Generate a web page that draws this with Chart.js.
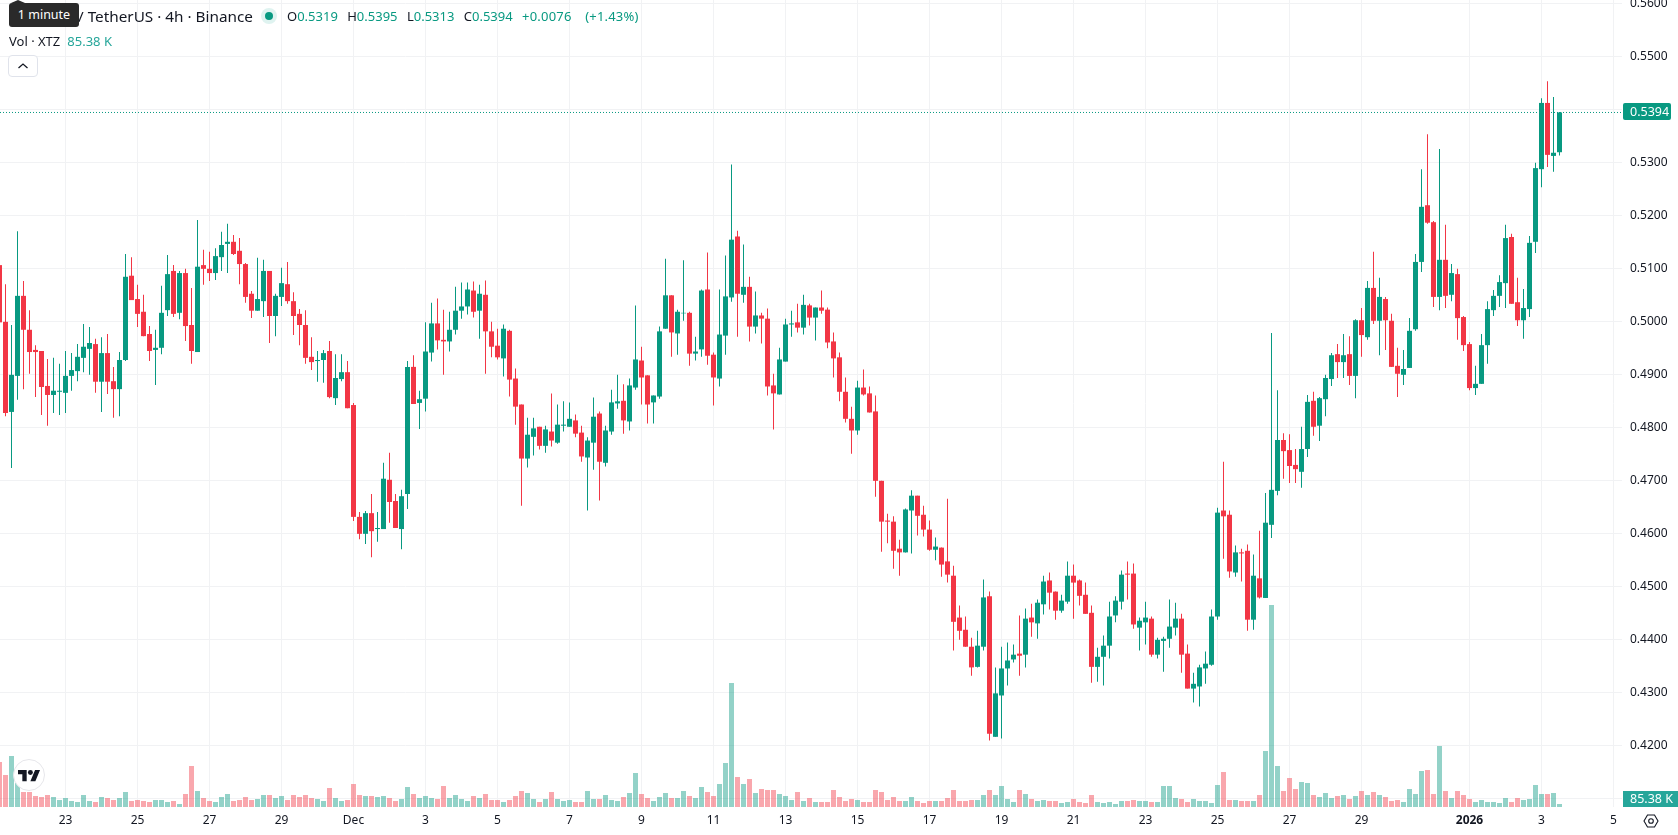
<!DOCTYPE html>
<html>
<head>
<meta charset="utf-8">
<title>XTZ / TetherUS</title>
<script src="https://cdn.jsdelivr.net/npm/chart.js@4.4.1/dist/chart.umd.min.js"></script>
<style>
	html, body { margin: 0; padding: 0; background: #fff; overflow: hidden; }
	#wrap { position: relative; width: 1678px; height: 835px; font-family: "Noto Sans", sans-serif; color: #131722; }
	#wrap canvas { position: absolute; left: 0; top: 0; }
	.row { position: absolute; white-space: nowrap; }
	.up { color: #089981; }
	.vol { color: #26a69a; }
	#title { left: 78px; top: 5px; font-size: 15.3px; line-height: 22px; }
	#liveDot { position: absolute; left: 261px; top: 8px; width: 16px; height: 16px; border-radius: 50%; background: #dff3f0; }
	#liveDot i { position: absolute; left: 4px; top: 4px; width: 8px; height: 8px; border-radius: 50%; background: #089981; }
	#ohlc { left: 287px; top: 6px; font-size: 13px; line-height: 20px; }
	#ohlc b { font-weight: normal; margin-left: 6px; }
	#ohlc b:first-child { margin-left: 0; }
	#ohlc b:last-child { letter-spacing: 0.2px; word-spacing: 10px; }
	#volRow { left: 9px; top: 31px; font-size: 13px; line-height: 20px; }
	#volRow span { margin-left: 7px; }
	#hint { position: absolute; left: 9px; top: 3px; width: 70px; height: 24px; background: #2a2a2a; border-radius: 3px; color: #fff; font-size: 12.5px; line-height: 24px; text-align: center; }
	#hint:before { content: ""; position: absolute; left: 2px; top: -3px; border-left: 7px solid transparent; border-right: 7px solid transparent; border-bottom: 3px solid #2a2a2a; }
	#toggle { position: absolute; left: 8px; top: 55px; width: 28px; height: 20px; border: 1px solid #e0e3eb; border-radius: 4px; background: #fff; }
	#logo { position: absolute; left: 13px; top: 759px; width: 32px; height: 32px; }
	#gear { position: absolute; left: 1643px; top: 814px; width: 16px; height: 14px; }
</style>
</head>
<body>
<div id="wrap">
	<canvas id="priceChart" width="1678" height="835"></canvas>
	<div class="row" id="title">/ TetherUS · 4h · Binance</div>
	<div id="liveDot"><i></i></div>
	<div class="row" id="ohlc"><b>O<span class="up">0.5319</span></b> <b>H<span class="up">0.5395</span></b> <b>L<span class="up">0.5313</span></b> <b>C<span class="up">0.5394</span></b> <b class="up">+0.0076 (+1.43%)</b></div>
	<div class="row" id="volRow">Vol · XTZ<span class="vol">85.38 K</span></div>
	<div id="hint">1 minute</div>
	<div id="toggle">
		<svg width="28" height="20" viewBox="0 0 28 20"><path d="M9.5 12 L14 8 L18.500 12" fill="none" stroke="#131722" stroke-width="1.300"/></svg>
	</div>
	<svg id="logo" viewBox="0 0 32 32">
		<circle cx="16" cy="16" r="15.500" fill="#fff" stroke="#e6e6ea"/>
		<g transform="translate(5 8.500) scale(0.62)" fill="#131722">
			<path d="M14 22H7V11H0V4h14v18zM28 22h-8l7.500-18h8L28 22z"/>
			<circle cx="20" cy="8" r="4"/>
		</g>
	</svg>
	<svg id="gear" viewBox="0 0 16 14">
		<path d="M1 7 L4.500 1 H11.500 L15 7 L11.500 13 H4.500 Z" fill="none" stroke="#131722" stroke-width="1.100"/>
		<circle cx="8" cy="7" r="2.300" fill="none" stroke="#131722" stroke-width="1.100"/>
	</svg>
</div>
<script>
//4시간봉 시세
var opens = [
	0.5106,0.4999,0.4829,0.4897,0.5048,0.4984,0.4946,0.4944,0.4878,0.4861,
	0.4867,0.4865,0.4897,0.4906,0.4931,0.4948,0.4957,0.4886,0.4940,0.4887,
	0.4872,0.4927,0.5086,0.5042,0.5018,0.4976,0.4946,0.4950,0.5021,0.5095,
	0.5016,0.5091,0.4993,0.4942,0.5106,0.5099,0.5091,0.5121,0.5146,0.5150,
	0.5133,0.5108,0.5052,0.5020,0.5038,0.5095,0.5010,0.5046,0.5070,0.5038,
	0.5014,0.4993,0.4933,0.4925,0.4927,0.4944,0.4855,0.4891,0.4904,0.4842,
	0.4631,0.4599,0.4638,0.4608,0.4608,0.4701,0.4661,0.4608,0.4674,0.4914,
	0.4846,0.4854,0.4941,0.4996,0.4965,0.4962,0.4984,0.5020,0.5028,0.5058,
	0.5020,0.5050,0.4981,0.4954,0.4930,0.4982,0.4892,0.4843,0.4741,0.4782,
	0.4801,0.4765,0.4792,0.4771,0.4803,0.4801,0.4813,0.4790,0.4743,0.4771,
	0.4826,0.4733,0.4792,0.4845,0.4850,0.4811,0.4875,0.4926,0.4898,0.4847,
	0.4858,0.4986,0.5049,0.4977,0.5015,0.5016,0.4939,0.4947,0.5060,0.4937,
	0.4892,0.4973,0.5045,0.5160,0.5050,0.5065,0.4990,0.5011,0.5005,0.4879,
	0.4862,0.4924,0.4994,0.4998,0.4988,0.5030,0.5007,0.5026,0.5022,0.4962,
	0.4932,0.4867,0.4816,0.4794,0.4875,0.4864,0.4830,0.4699,0.4624,0.4622,
	0.4571,0.4564,0.4643,0.4671,0.4635,0.4607,0.4569,0.4573,0.4547,0.4520,
	0.4441,0.4418,0.4386,0.4348,0.4386,0.4481,0.4216,0.4294,0.4345,0.4362,
	0.4373,0.4371,0.4441,0.4430,0.4466,0.4511,0.4490,0.4454,0.4471,0.4520,
	0.4511,0.4484,0.4450,0.4348,0.4367,0.4388,0.4445,0.4471,0.4524,0.4524,
	0.4422,0.4432,0.4439,0.4371,0.4397,0.4401,0.4422,0.4439,0.4373,0.4307,
	0.4311,0.4345,0.4352,0.4443,0.4643,0.4635,0.4526,0.4564,0.4567,0.4437,
	0.4515,0.4478,0.4616,0.4680,0.4776,0.4757,0.4729,0.4716,0.4759,0.4850,
	0.4803,0.4853,0.4891,0.4938,0.4923,0.4938,0.4897,0.5002,0.4970,0.5063,
	0.5001,0.5042,0.5001,0.4916,0.4899,0.4912,0.4985,0.5112,0.5219,0.5187,
	0.5046,0.5116,0.5050,0.5089,0.5008,0.4957,0.4874,0.4882,0.4955,0.5021,
	0.5048,0.5072,0.5159,0.5036,0.5002,0.5023,0.5150,0.5287,0.5412,0.5312,
	0.5319
];
var highs = [
	0.5110,0.5070,0.4993,0.5170,0.5076,0.5021,0.4955,0.4944,0.4929,0.4931,
	0.4920,0.4944,0.4940,0.4957,0.4995,0.4989,0.4967,0.4970,0.4976,0.4914,
	0.4942,0.5127,0.5121,0.5069,0.5050,0.4991,0.4984,0.5067,0.5125,0.5106,
	0.5095,0.5099,0.5063,0.5191,0.5135,0.5131,0.5138,0.5169,0.5184,0.5163,
	0.5157,0.5110,0.5057,0.5120,0.5116,0.5095,0.5052,0.5101,0.5112,0.5055,
	0.5023,0.5021,0.4970,0.4944,0.4946,0.4963,0.4938,0.4938,0.4925,0.4846,
	0.4640,0.4642,0.4674,0.4640,0.4733,0.4752,0.4674,0.4682,0.4925,0.4936,
	0.4869,0.4998,0.5035,0.5043,0.5022,0.5018,0.5065,0.5073,0.5073,0.5075,
	0.5069,0.5077,0.4999,0.4986,0.4994,0.4984,0.4911,0.4843,0.4818,0.4818,
	0.4801,0.4803,0.4864,0.4843,0.4849,0.4847,0.4824,0.4803,0.4781,0.4856,
	0.4830,0.4803,0.4871,0.4899,0.4881,0.4892,0.5030,0.4952,0.4898,0.4860,
	0.4990,0.5118,0.5049,0.5022,0.5115,0.5018,0.4971,0.5060,0.5130,0.4941,
	0.5060,0.5124,0.5296,0.5171,0.5145,0.5084,0.5056,0.5016,0.5024,0.4901,
	0.4950,0.5005,0.5020,0.5033,0.5050,0.5033,0.5026,0.5058,0.5026,0.4979,
	0.4941,0.4894,0.4839,0.4888,0.4909,0.4877,0.4860,0.4699,0.4637,0.4632,
	0.4588,0.4647,0.4681,0.4671,0.4652,0.4624,0.4592,0.4573,0.4665,0.4539,
	0.4464,0.4443,0.4403,0.4416,0.4513,0.4490,0.4347,0.4386,0.4394,0.4390,
	0.4445,0.4458,0.4467,0.4475,0.4520,0.4526,0.4490,0.4484,0.4547,0.4541,
	0.4513,0.4507,0.4464,0.4384,0.4407,0.4471,0.4481,0.4530,0.4547,0.4543,
	0.4441,0.4471,0.4443,0.4403,0.4405,0.4475,0.4469,0.4448,0.4390,0.4337,
	0.4352,0.4377,0.4456,0.4648,0.4735,0.4643,0.4577,0.4571,0.4579,0.4560,
	0.4605,0.4676,0.4978,0.4870,0.4789,0.4787,0.4759,0.4801,0.4861,0.4867,
	0.4857,0.4899,0.4940,0.4957,0.4976,0.4972,0.5004,0.5025,0.5076,0.5131,
	0.5082,0.5046,0.5014,0.4950,0.4946,0.5006,0.5127,0.5287,0.5353,0.5189,
	0.5325,0.5182,0.5108,0.5099,0.5010,0.4961,0.4916,0.4976,0.5038,0.5059,
	0.5087,0.5182,0.5165,0.5082,0.5061,0.5161,0.5299,0.5421,0.5453,0.5423,
	0.5395
];
var lows = [
	0.4995,0.4821,0.4723,0.4852,0.4872,0.4901,0.4857,0.4823,0.4803,0.4827,
	0.4823,0.4827,0.4869,0.4887,0.4904,0.4899,0.4865,0.4829,0.4863,0.4818,
	0.4821,0.4925,0.5040,0.4989,0.4972,0.4925,0.4880,0.4938,0.5010,0.5008,
	0.5004,0.4963,0.4920,0.4942,0.5069,0.5076,0.5078,0.5095,0.5091,0.5125,
	0.5070,0.5035,0.5006,0.5020,0.5008,0.4959,0.4972,0.5029,0.5033,0.4974,
	0.4955,0.4920,0.4908,0.4886,0.4884,0.4855,0.4842,0.4887,0.4836,0.4623,
	0.4589,0.4580,0.4555,0.4584,0.4608,0.4620,0.4610,0.4570,0.4646,0.4844,
	0.4797,0.4830,0.4924,0.4947,0.4899,0.4943,0.4975,0.5005,0.5013,0.5007,
	0.4967,0.4901,0.4932,0.4928,0.4896,0.4858,0.4805,0.4652,0.4724,0.4747,
	0.4758,0.4752,0.4764,0.4769,0.4792,0.4801,0.4781,0.4735,0.4643,0.4720,
	0.4662,0.4726,0.4786,0.4835,0.4788,0.4794,0.4871,0.4843,0.4807,0.4807,
	0.4854,0.4986,0.4933,0.4937,0.5001,0.4916,0.4926,0.4933,0.4918,0.4841,
	0.4877,0.4937,0.5037,0.4971,0.5035,0.4962,0.4977,0.4958,0.4860,0.4796,
	0.4862,0.4924,0.4971,0.4979,0.4975,0.4992,0.4964,0.5014,0.4949,0.4894,
	0.4849,0.4809,0.4750,0.4786,0.4860,0.4828,0.4669,0.4565,0.4581,0.4533,
	0.4520,0.4564,0.4562,0.4596,0.4594,0.4567,0.4549,0.4518,0.4507,0.4379,
	0.4399,0.4386,0.4331,0.4347,0.4379,0.4209,0.4216,0.4213,0.4313,0.4356,
	0.4331,0.4347,0.4405,0.4401,0.4447,0.4456,0.4437,0.4450,0.4467,0.4439,
	0.4464,0.4448,0.4318,0.4320,0.4313,0.4364,0.4432,0.4456,0.4475,0.4420,
	0.4379,0.4390,0.4367,0.4364,0.4339,0.4384,0.4407,0.4337,0.4307,0.4281,
	0.4273,0.4316,0.4350,0.4437,0.4552,0.4516,0.4518,0.4509,0.4416,0.4418,
	0.4477,0.4478,0.4591,0.4672,0.4703,0.4695,0.4695,0.4686,0.4744,0.4784,
	0.4774,0.4821,0.4878,0.4893,0.4893,0.4880,0.4855,0.4933,0.4965,0.4995,
	0.4936,0.4946,0.4914,0.4857,0.4880,0.4912,0.4982,0.5093,0.5184,0.5027,
	0.5021,0.5025,0.5038,0.4965,0.4944,0.4870,0.4861,0.4882,0.4920,0.5010,
	0.5027,0.5025,0.5033,0.4991,0.4967,0.5008,0.5129,0.5253,0.5291,0.5282,
	0.5313
];
var closes = [
	0.4998,0.4827,0.4899,0.5048,0.4984,0.4942,0.4942,0.4876,0.4861,0.4869,
	0.4869,0.4897,0.4908,0.4933,0.4952,0.4959,0.4886,0.4940,0.4886,0.4872,
	0.4927,0.5084,0.5040,0.5014,0.4972,0.4944,0.4950,0.5016,0.5089,0.5014,
	0.5091,0.4991,0.4944,0.5103,0.5099,0.5091,0.5123,0.5144,0.5150,0.5127,
	0.5108,0.5046,0.5020,0.5042,0.5095,0.5010,0.5048,0.5072,0.5038,0.5010,
	0.4993,0.4931,0.4923,0.4927,0.4940,0.4857,0.4893,0.4904,0.4836,0.4631,
	0.4599,0.4638,0.4604,0.4610,0.4703,0.4659,0.4610,0.4670,0.4914,0.4844,
	0.4853,0.4943,0.4996,0.4964,0.4962,0.4984,0.5020,0.5028,0.5060,0.5018,
	0.5052,0.4981,0.4952,0.4932,0.4986,0.4890,0.4839,0.4741,0.4786,0.4798,
	0.4765,0.4796,0.4775,0.4805,0.4805,0.4816,0.4788,0.4745,0.4775,0.4820,
	0.4735,0.4794,0.4847,0.4849,0.4813,0.4879,0.4928,0.4894,0.4843,0.4860,
	0.4981,0.5049,0.4979,0.5018,0.5016,0.4939,0.4943,0.5058,0.4935,0.4894,
	0.4975,0.5047,0.5154,0.5052,0.5065,0.4990,0.5011,0.5005,0.4877,0.4864,
	0.4928,0.4994,0.4996,0.4988,0.5031,0.5007,0.5026,0.5020,0.4960,0.4930,
	0.4867,0.4816,0.4794,0.4875,0.4862,0.4828,0.4699,0.4622,0.4622,0.4567,
	0.4564,0.4645,0.4671,0.4633,0.4607,0.4569,0.4575,0.4541,0.4522,0.4433,
	0.4416,0.4386,0.4347,0.4388,0.4479,0.4222,0.4298,0.4345,0.4360,0.4371,
	0.4369,0.4439,0.4432,0.4469,0.4509,0.4488,0.4454,0.4473,0.4520,0.4507,
	0.4482,0.4448,0.4348,0.4367,0.4388,0.4443,0.4473,0.4522,0.4522,0.4428,
	0.4435,0.4441,0.4371,0.4399,0.4401,0.4424,0.4439,0.4371,0.4307,0.4316,
	0.4347,0.4354,0.4443,0.4639,0.4632,0.4528,0.4564,0.4562,0.4437,0.4520,
	0.4479,0.4620,0.4682,0.4776,0.4755,0.4727,0.4721,0.4759,0.4848,0.4801,
	0.4855,0.4893,0.4936,0.4923,0.4936,0.4897,0.5002,0.4974,0.5063,0.5001,
	0.5046,0.5002,0.4914,0.4901,0.4910,0.4982,0.5112,0.5216,0.5186,0.5046,
	0.5116,0.5048,0.5091,0.5006,0.4955,0.4874,0.4882,0.4955,0.5023,0.5048,
	0.5074,0.5157,0.5033,0.5002,0.5025,0.5148,0.5289,0.5412,0.5314,0.5318,
	0.5394
];
//거래량 (단위 K)
var volumes = [
	1281,911,1452,680,427,427,313,285,342,285,
	199,256,171,142,342,171,142,285,256,199,
	256,427,171,199,171,142,199,199,142,171,
	85,370,1167,455,256,171,142,285,370,171,
	199,285,199,228,342,342,256,313,199,342,
	285,342,256,228,171,541,256,171,199,655,
	342,313,313,285,313,256,171,228,569,370,
	256,313,256,228,598,256,342,228,171,313,
	256,370,199,199,142,199,313,455,398,228,
	142,228,427,228,171,199,142,142,455,228,
	228,342,199,171,285,398,968,370,256,171,
	285,398,256,256,455,313,256,569,427,313,
	655,1252,3529,854,655,797,398,512,484,484,
	370,313,199,427,171,256,142,142,142,484,
	285,171,228,199,142,142,484,427,199,285,
	171,171,285,171,114,171,171,171,256,484,
	171,171,199,199,342,484,342,598,228,142,
	484,370,228,171,199,171,171,114,142,228,
	142,114,342,142,114,142,85,171,171,199,
	171,171,142,142,598,598,256,228,142,228,
	171,171,114,626,996,199,199,171,171,171,
	342,1594,5750,1167,455,825,512,712,683,342,
	285,398,256,313,342,228,313,455,342,427,
	342,285,171,199,142,512,370,1025,1053,370,
	1736,455,256,455,342,228,142,199,142,142,
	114,256,142,256,199,228,626,370,370,398,
	85.38
];
//x축 눈금
var tickBars = [10,22,34,46,58,70,82,94,106,118,130,142,154,166,178,190,202,214,226,244,256,268];
var tickLabels = ['23','25','27','29','Dec','3','5','7','9','11','13','15','17','19','21','23','25','27','29','2026','3','5'];
//y축 눈금
var priceTicks = [0.41,0.42,0.43,0.44,0.45,0.46,0.47,0.48,0.49,0.50,0.51,0.52,0.53,0.54,0.55,0.56];

var firstBar = -1;
var lastClose = closes[closes.length - 1];
var lastVolumeLabel = '85.38 K';

var upColor = '#089981';
var downColor = '#f23645';
var upVolume = 'rgba(8,153,129,0.44)';
var downVolume = 'rgba(242,54,69,0.44)';
var gridColor = '#f1f2f4';
var fontName = '"Noto Sans", sans-serif';

//화면 범위: 봉 6px 간격, 가격 0.01당 53px
var minBar = -0.9167;
var maxBar = 269.4167;
var minPrice = 0.40836;
var maxPrice = 0.56062;
var maxVolume = 22967;

var bodies = [], wicks = [], volumeBars = [], bodyColors = [], volumeColors = [];
for (var i = 0; i < opens.length; i++) {
	var isUp = closes[i] >= opens[i];
	bodies.push({ x: firstBar + i, y: [opens[i], closes[i]] });
	wicks.push({ x: firstBar + i, y: [lows[i], highs[i]] });
	volumeBars.push({ x: firstBar + i, y: volumes[i] });
	bodyColors.push(isUp ? upColor : downColor);
	volumeColors.push(isUp ? upVolume : downVolume);
}

//축 라벨 때문에 차트 영역이 줄어들지 않게 한다
function noLabelPadding(scale) {
	scale.paddingTop = 0;
	scale.paddingBottom = 0;
	scale.paddingLeft = 0;
	scale.paddingRight = 0;
}

//가격 태그
var priceTags = {
	id: 'priceTags',
	afterDraw: function(chart) {
		var ctx = chart.ctx;
		var y = Math.round(chart.scales.y.getPixelForValue(lastClose));
		ctx.save();
		ctx.textBaseline = 'middle';
		ctx.font = '12.5px ' + fontName;
		ctx.fillStyle = upColor;
		ctx.beginPath();
		ctx.roundRect(1623, y - 9, 48, 17, 2);
		ctx.fill();
		ctx.fillStyle = '#fff';
		ctx.fillText(lastClose.toFixed(4), 1630, y);
		ctx.fillStyle = '#26a69a';
		ctx.fillRect(1623, 791, 55, 16);
		ctx.fillStyle = '#fff';
		ctx.fillText(lastVolumeLabel, 1630, 799.5);
		ctx.restore();
	}
};

var ctx = document.getElementById('priceChart').getContext('2d');
var chart = new Chart(ctx, {
	type: 'bar',
	data: {
		datasets: [{
			label: 'Body',
			data: bodies,
			backgroundColor: bodyColors,
			barThickness: 5,
			grouped: false,
			inflateAmount: 0,
			order: 1
		}, {
			label: 'Wick',
			data: wicks,
			backgroundColor: bodyColors,
			barThickness: 1,
			grouped: false,
			inflateAmount: 0,
			order: 2
		}, {
			type: 'line',
			label: 'Last',
			data: [{ x: minBar, y: lastClose }, { x: maxBar, y: lastClose }],
			borderColor: upColor,
			borderWidth: 1,
			borderDash: [1, 2],
			pointRadius: 0,
			order: 3
		}, {
			label: 'Vol',
			data: volumeBars,
			yAxisID: 'vol',
			backgroundColor: volumeColors,
			barThickness: 5,
			grouped: false,
			inflateAmount: 0,
			order: 4
		}]
	},
	options: {
		responsive: false,
		animation: false,
		layout: { padding: 0 },
		plugins: { legend: { display: false }, tooltip: { enabled: false } },
		scales: {
			x: {
				type: 'linear',
				offset: false,
				min: minBar,
				max: maxBar,
				grid: { color: gridColor, offset: false, drawTicks: false },
				border: { display: false },
				afterBuildTicks: function(scale) {
					scale.ticks = tickBars.map(function(v) { return { value: v }; });
				},
				afterFit: function(scale) {
					scale.height = 28;
					noLabelPadding(scale);
				},
				ticks: {
					autoSkip: false,
					maxRotation: 0,
					padding: 6,
					color: '#131722',
					font: function(c) {
						var isYear = c.tick && tickLabels[tickBars.indexOf(c.tick.value)] === '2026';
						return { family: fontName, size: 12, weight: isYear ? 'bold' : 'normal' };
					},
					callback: function(v) { return tickLabels[tickBars.indexOf(v)]; }
				}
			},
			y: {
				position: 'right',
				min: minPrice,
				max: maxPrice,
				grid: { color: gridColor, drawTicks: false },
				border: { display: false },
				afterBuildTicks: function(scale) {
					scale.ticks = priceTicks.map(function(v) { return { value: v }; });
				},
				afterFit: function(scale) {
					scale.width = 56;
					noLabelPadding(scale);
				},
				ticks: {
					padding: 8,
					color: '#131722',
					font: { family: fontName, size: 12 },
					callback: function(v) { return v.toFixed(4); }
				}
			},
			vol: {
				display: false,
				position: 'right',
				min: 0,
				max: maxVolume
			}
		}
	},
	plugins: [priceTags]
});
</script>
</body>
</html>
